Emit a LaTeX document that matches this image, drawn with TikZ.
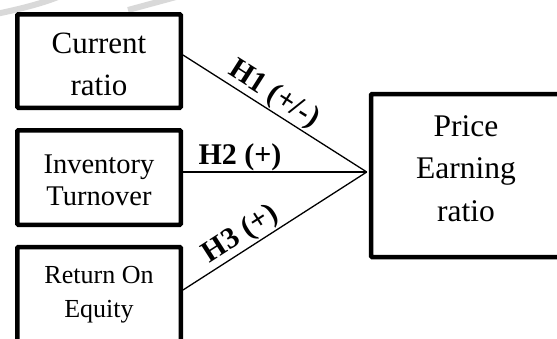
\documentclass[tikz,border=0pt]{standalone}
\usepackage{fontspec}
\setmainfont{Liberation Serif}
\begin{document}
\begin{tikzpicture}[x=1pt, y=-1pt,
  box/.style={draw, line width=4.5pt, rounded corners=1pt, align=center, inner sep=0pt},
  link/.style={line width=1.3pt},
  hyp/.style={font=\fontsize{30}{34}\selectfont\bfseries, inner sep=1pt}]
\useasboundingbox (0,0) rectangle (557,338);
% watermark traces
\draw[gray!30, line width=6pt] (-4,14) .. controls (20,9) and (40,4) .. (58,-3);
\draw[gray!30, line width=6pt] (128,10) -- (176,-3);
% independent variables
\node[box, minimum width=163.5pt, minimum height=93.5pt, text height=69pt, font=\fontsize{31}{42}\selectfont] (cr) at (99,61) {Current\\ratio};
\node[box, minimum width=163.5pt, minimum height=94.5pt, text height=57pt, font=\fontsize{28.5}{32}\selectfont] (it) at (99,177.5) {Inventory\\Turnover};
\node[box, minimum width=163.5pt, minimum height=96pt, font=\fontsize{26}{34}\selectfont] (roe) at (99,295) {Return On\\Equity};
% dependent variable
\node[box, minimum width=190pt, minimum height=163pt, text depth=14pt, font=\fontsize{31.5}{42.5}\selectfont] (per) at (466,175.5) {Price\\Earning\\ratio};
\coordinate (meet) at ([xshift=-2pt, yshift=3.5pt]per.west);
% hypotheses
\draw[link] ([yshift=6pt]cr.east) -- node[hyp, pos=0.45, sloped, above] {H1 (+/-)} (meet);
\draw[link] ([yshift=5.5pt]it.east) -- node[hyp, pos=0.31, above, inner sep=0pt] {H2 (+)} (meet);
\draw[link] ([yshift=5pt]roe.east) -- node[hyp, pos=0.36, sloped, above] {H3 (+)} (meet);
\end{tikzpicture}
\end{document}
